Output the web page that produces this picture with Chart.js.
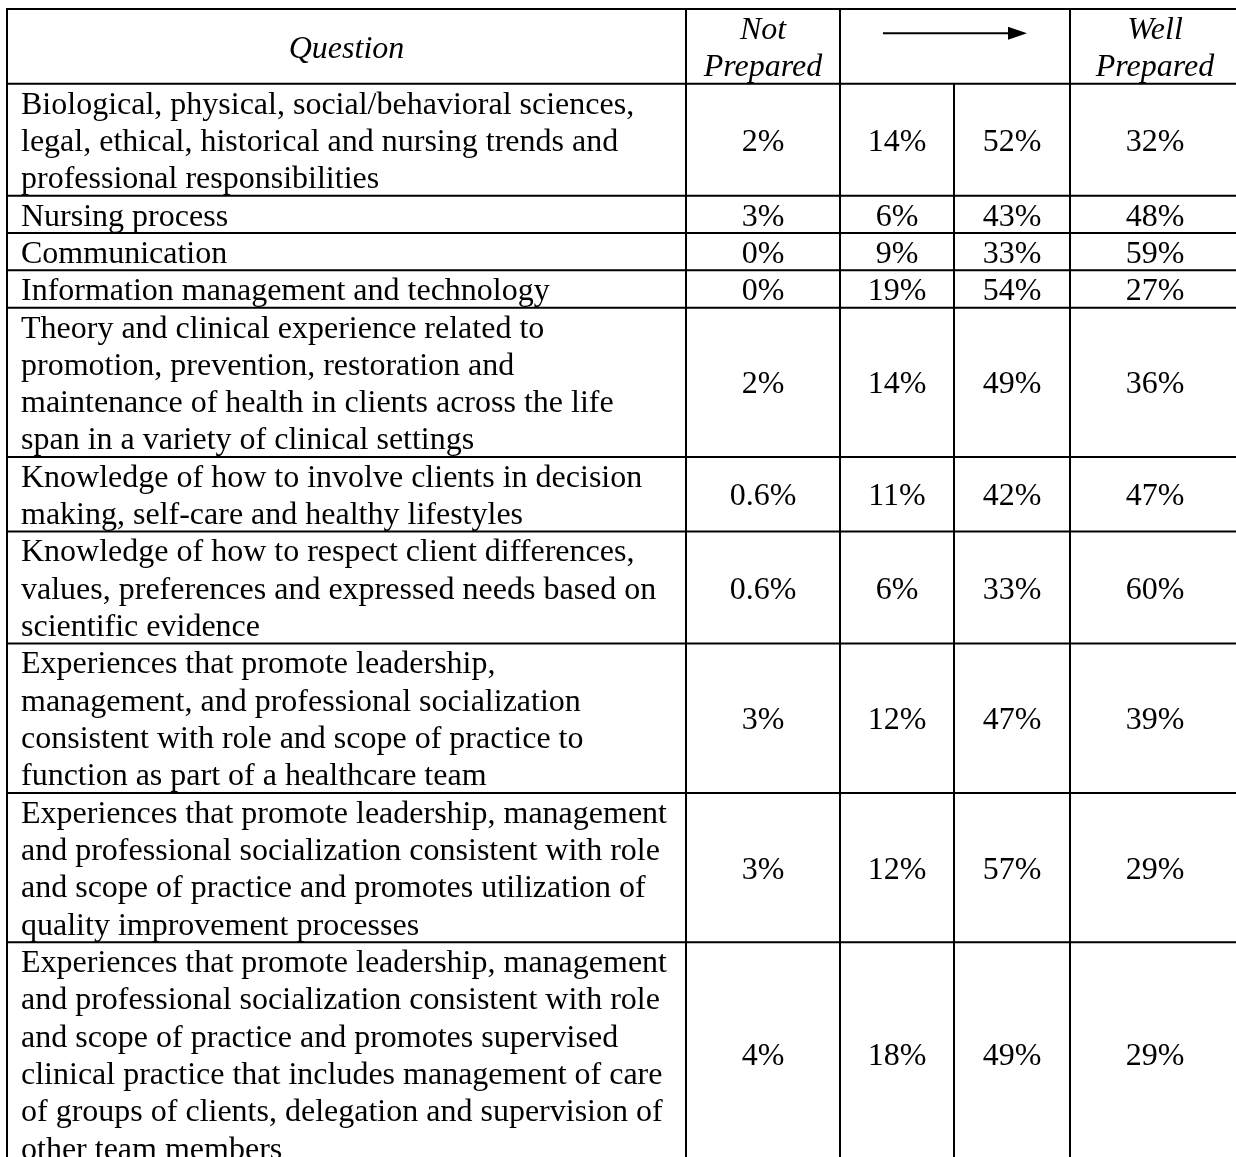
<!DOCTYPE html>
<html>
<head>
<meta charset="utf-8">
<script src="https://cdn.jsdelivr.net/npm/chart.js@4.4.1/dist/chart.umd.min.js"></script>
<style>
  html, body { margin: 0; padding: 0; background: #ffffff; }
  #wrap { width: 1236px; height: 1157px; }
  canvas { display: block; }
</style>
</head>
<body>
<div id="wrap"><canvas id="c" width="1236" height="1157"></canvas></div>
<script>
// ---------- DATA ----------
const headerQuestion = "Question";
const headerLow = ["Not", "Prepared"];
const headerHigh = ["Well", "Prepared"];

const questions = [
  ["Biological, physical, social/behavioral sciences,", "legal, ethical, historical and nursing trends and", "professional responsibilities"],
  ["Nursing process"],
  ["Communication"],
  ["Information management and technology"],
  ["Theory and clinical experience related to", "promotion, prevention, restoration and", "maintenance of health in clients across the life", "span in a variety of clinical settings"],
  ["Knowledge of how to involve clients in decision", "making, self-care and healthy lifestyles"],
  ["Knowledge of how to respect client differences,", "values, preferences and expressed needs based on", "scientific evidence"],
  ["Experiences that promote leadership,", "management, and professional socialization", "consistent with role and scope of practice to", "function as part of a healthcare team"],
  ["Experiences that promote leadership, management", "and professional socialization consistent with role", "and scope of practice and promotes utilization of", "quality improvement processes"],
  ["Experiences that promote leadership, management", "and professional socialization consistent with role", "and scope of practice and promotes supervised", "clinical practice that includes management of care", "of groups of clients, delegation and supervision of", "other team members"]
];
const notPrepared  = [2, 3, 0, 0, 2, 0.6, 0.6, 3, 3, 4];
const level2       = [14, 6, 9, 19, 14, 11, 6, 12, 12, 18];
const level3       = [52, 43, 33, 54, 49, 42, 33, 47, 57, 49];
const wellPrepared = [32, 48, 59, 27, 36, 47, 60, 39, 29, 29];

// ---------- LAYOUT (table units) ----------
const colWidths = [679, 154, 114, 116, 170];   // x units
const headerLines = 2;                          // y units = text lines
const LINE_PX = 37.33;
const TOP_PX = 9, LEFT_PX = 7;
const W = 1236, H = 1157;

const colEdges = [0];
colWidths.forEach(w => colEdges.push(colEdges[colEdges.length - 1] + w));
const rowEdges = [0, headerLines];
questions.forEach(q => rowEdges.push(rowEdges[rowEdges.length - 1] + q.length));

const valueCols = [notPrepared, level2, level3, wellPrepared];
const fmt = v => v + "%";

// one dataset per column, points at cell positions
const datasets = valueCols.map((arr, ci) => ({
  label: "col" + (ci + 1),
  data: arr.map((v, ri) => ({
    x: (colEdges[ci + 1] + colEdges[ci + 2]) / 2,
    y: (rowEdges[ri + 1] + rowEdges[ri + 2]) / 2,
    text: fmt(v)
  })),
  pointRadius: 0,
  showLine: false
}));
datasets.unshift({
  label: "question",
  data: questions.map((q, ri) => ({ x: colEdges[0], y: rowEdges[ri + 1], lines: q })),
  pointRadius: 0,
  showLine: false
});

const FONT = "'Liberation Serif', 'Times New Roman', serif";
const BASE = 0.8; // baseline offset inside a text line (in line units)

const tablePlugin = {
  id: "tablePlugin",
  afterDatasetsDraw(chart) {
    const ctx = chart.ctx;
    const xs = chart.scales.x, ys = chart.scales.y;
    const X = v => xs.getPixelForValue(v);
    const Y = v => ys.getPixelForValue(v);
    ctx.save();
    ctx.fillStyle = "#000";
    ctx.strokeStyle = "#000";

    // header texts
    ctx.font = "italic 32px " + FONT;
    ctx.textAlign = "center";
    ctx.textBaseline = "alphabetic";
    ctx.fillText(headerQuestion, X((colEdges[0] + colEdges[1]) / 2), Y(headerLines / 2 - 0.5 + BASE));
    headerLow.forEach((t, i) => ctx.fillText(t, X((colEdges[1] + colEdges[2]) / 2), Y(i + BASE)));
    headerHigh.forEach((t, i) => ctx.fillText(t, X((colEdges[4] + colEdges[5]) / 2), Y(i + BASE)));

    // arrow in merged header cell
    const ac = (colEdges[2] + colEdges[4]) / 2;
    const ax0 = X(ac - 72), ax1 = X(ac + 72), ay = Y(0.65);
    ctx.lineWidth = 2;
    ctx.beginPath();
    ctx.moveTo(ax0, ay);
    ctx.lineTo(ax1 - 16, ay);
    ctx.stroke();
    ctx.beginPath();
    ctx.moveTo(ax1, ay);
    ctx.lineTo(ax1 - 19, ay - 6.5);
    ctx.lineTo(ax1 - 19, ay + 6.5);
    ctx.closePath();
    ctx.fill();

    // body texts
    ctx.font = "32px " + FONT;
    chart.data.datasets.forEach((ds, di) => {
      const meta = chart.getDatasetMeta(di);
      meta.data.forEach((el, i) => {
        const p = ds.data[i];
        if (p.lines) {
          ctx.textAlign = "left";
          p.lines.forEach((t, li) => ctx.fillText(t, el.x + 14, Y(p.y + li + BASE)));
        } else {
          ctx.textAlign = "center";
          ctx.fillText(p.text, el.x, Y(p.y - 0.5 + BASE));
        }
      });
    });

    // grid lines
    ctx.lineWidth = 2;
    ctx.beginPath();
    rowEdges.forEach(r => {
      ctx.moveTo(X(colEdges[0]) - 1, Y(r));
      ctx.lineTo(X(colEdges[5]) + 1, Y(r));
    });
    colEdges.forEach((c, i) => {
      const start = (i === 3) ? rowEdges[1] : rowEdges[0];
      ctx.moveTo(X(c), Y(start));
      ctx.lineTo(X(c), Y(rowEdges[rowEdges.length - 1]));
    });
    ctx.stroke();
    ctx.restore();
  }
};

new Chart(document.getElementById("c"), {
  type: "scatter",
  data: { datasets },
  options: {
    responsive: false,
    animation: false,
    devicePixelRatio: 1,
    layout: { padding: 0 },
    plugins: { legend: { display: false }, tooltip: { enabled: false } },
    events: [],
    scales: {
      x: { type: "linear", display: false, min: -LEFT_PX, max: W - LEFT_PX },
      y: { type: "linear", display: false, reverse: true,
           min: -TOP_PX / LINE_PX, max: (H - TOP_PX) / LINE_PX }
    }
  },
  plugins: [tablePlugin]
});
</script>
</body>
</html>
